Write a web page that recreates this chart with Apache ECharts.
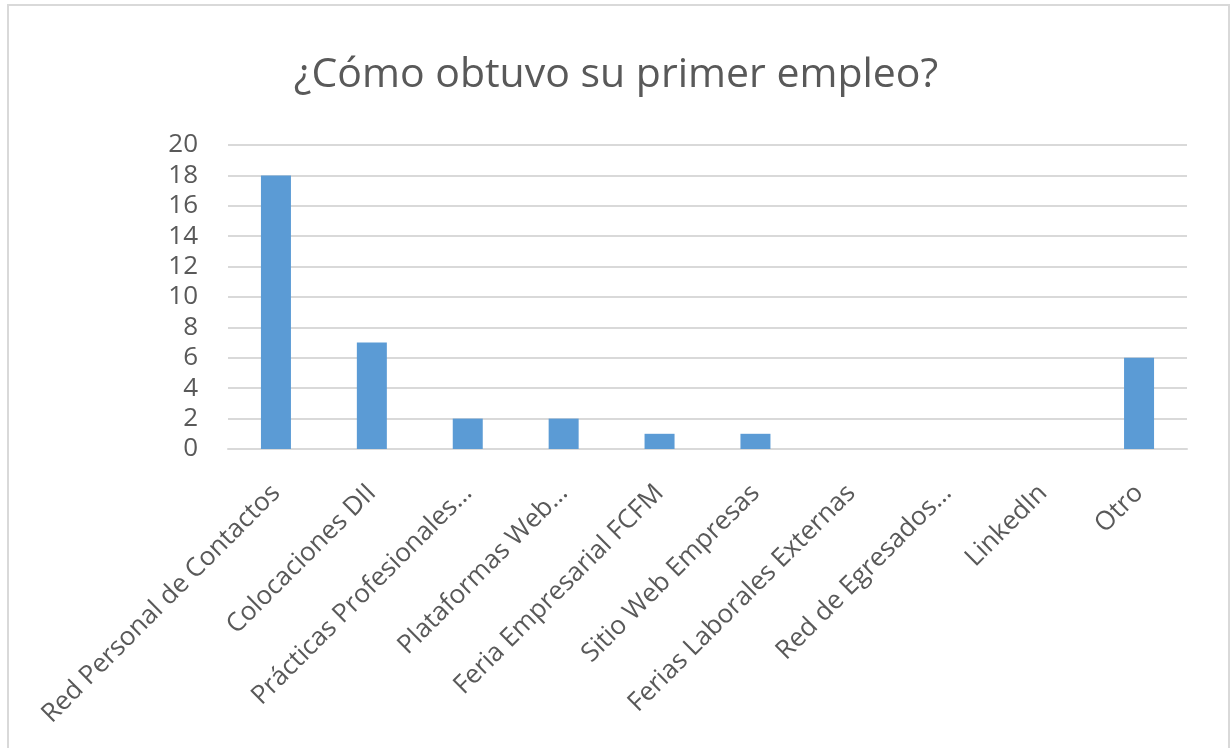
<!DOCTYPE html>
<html><head><meta charset="utf-8">
<script src="https://cdn.jsdelivr.net/npm/echarts@6/dist/echarts.min.js"></script>
<style>html,body{margin:0;padding:0;background:#fff}#c{width:1232px;height:748px}</style>
</head><body><div id="c"></div>
<script>
const titleText = '¿Cómo obtuvo su primer empleo?';
const categories = ['Red Personal de Contactos','Colocaciones DII','Prácticas Profesionales…','Plataformas Web…','Feria Empresarial FCFM','Sitio Web Empresas','Ferias Laborales Externas','Red de Egresados…','LinkedIn','Otro'];
const values = [18, 7, 2, 2, 1, 1, 0, 0, 0, 6];
const yMin = 0, yMax = 20, yStep = 2;

const chart = echarts.init(document.getElementById('c'), null, {renderer:'canvas'});
const font = '"Open Sans", sans-serif';
chart.setOption({
  animation:false,
  backgroundColor:'#fff',
  graphic:[{type:'rect',shape:{x:8,y:5,width:1221,height:760},style:{fill:'none',stroke:'#d9d9d9',lineWidth:2},silent:true}],
  title:{text:titleText,left:'center',top:50,textStyle:{fontFamily:font,fontSize:41,fontWeight:'normal',color:'#595959'}},
  grid:{left:228,right:45,top:145,bottom:299,containLabel:false},
  xAxis:{type:'category',data:categories,
    axisLine:{lineStyle:{color:'#d9d9d9',width:2}},axisTick:{show:false},
    axisLabel:{rotate:45,interval:0,margin:40,fontFamily:font,fontSize:26,color:'#595959'}},
  yAxis:{type:'value',min:yMin,max:yMax,interval:yStep,
    axisLine:{show:false},axisTick:{show:false},
    splitLine:{lineStyle:{color:'#d9d9d9',width:2}},
    axisLabel:{margin:30,fontFamily:font,fontSize:26,color:'#595959'}},
  series:[{type:'bar',data:values,barWidth:30,itemStyle:{color:'#5b9bd5'}}]
});
</script></body></html>
